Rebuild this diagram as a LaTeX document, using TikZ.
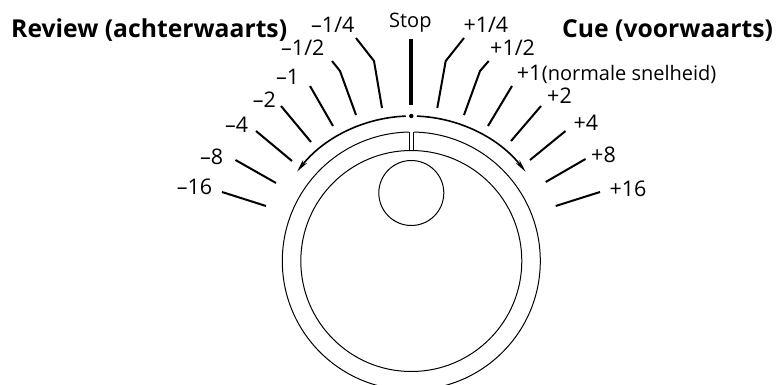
\documentclass[tikz,border=0pt]{standalone}
\usepackage{fontspec}
\setmainfont{Open Sans}
\usetikzlibrary{arrows.meta}
\tikzset{
  dialtext/.style={anchor=base west,inner sep=0pt,font=\fontsize{21.5}{25}\selectfont},
  wordtext/.style={anchor=base west,inner sep=0pt,font=\fontsize{20}{24}\selectfont},
  headtext/.style={anchor=base west,inner sep=0pt,font=\bfseries\fontsize{24.7}{29}\selectfont},
  speedtick/.style={line width=2pt,line join=round},
  knobline/.style={line width=1pt},
  sweeparc/.style={line width=1.6pt,-{Stealth[length=13pt,width=5pt,inset=4pt]}}
}
\begin{document}
\begin{tikzpicture}[x=1pt,y=-1pt]
        \path[use as bounding box,clip] (0,0) rectangle (781,385);
        \coordinate (knobcentre) at (411.3,261);

        \node[headtext] (reviewhead) at (11,37.3) {Review (achterwaarts)};
        \node[headtext] (cuehead) at (562,37.3) {Cue (voorwaarts)};

        \node[wordtext] (stoplabel) at (389,27.7) {Stop};
        \node[dialtext] (minquarter) at (311,33) {–1/4};
        \node[dialtext] (minhalf) at (281,56) {–1/2};
        \node[dialtext] (minone) at (276,85) {–1};
        \node[dialtext] (mintwo) at (252.7,108) {–2};
        \node[dialtext] (minfour) at (225,132.7) {–4};
        \node[dialtext] (mineight) at (200,164) {–8};
        \node[dialtext] (minsixteen) at (176.7,194) {–16};
        \node[dialtext] (plusquarter) at (463.3,32.3) {+1/4};
        \node[dialtext] (plushalf) at (490,56) {+1/2};
        \node[dialtext] (plusone) at (516.7,81) {+1};
        \node[wordtext] (normalspeed) at (541.7,81) {(normale snelheid)};
        \node[dialtext] (plustwo) at (547,104) {+2};
        \node[dialtext] (plusfour) at (573.3,131) {+4};
        \node[dialtext] (pluseight) at (591,162) {+8};
        \node[dialtext] (plussixteen) at (609.3,196.7) {+16};

        \draw[speedtick,line width=3.3pt] (411,39) -- (411,105.5);
        \draw[speedtick] (222,192) -- (266,206);
        \draw[speedtick] (235.5,160) -- (276,183);
        \draw[speedtick] (256,131) -- (292,161);
        \draw[speedtick] (281,106) -- (311,142);
        \draw[speedtick] (310,86) -- (333,126);
        \draw[speedtick] (332,61) -- (340,71) -- (356,115);
        \draw[speedtick] (356,38) -- (374,61) -- (382,108);
        \draw[speedtick] (464,38) -- (445.7,61) -- (437.3,108);
        \draw[speedtick] (488.7,61) -- (480,71) -- (464,115);
        \draw[speedtick] (512,86) -- (488,126);
        \draw[speedtick] (541,106) -- (511,141);
        \draw[speedtick] (565.5,131) -- (530,160);
        \draw[speedtick] (585.5,159) -- (545.7,182);
        \draw[speedtick] (600,192) -- (555.7,206);

        % sweep arcs either side of the stop dot
        \fill ([shift={(90:145pt)}]knobcentre) circle (2.2pt);
        \draw[sweeparc] ([shift={(92.2:145pt)}]knobcentre) arc[start angle=92.2,end angle=142,radius=145pt];
        \draw[sweeparc] ([shift={(87.8:145pt)}]knobcentre) arc[start angle=87.8,end angle=38,radius=145pt];

        % knob
        \draw[knobline] ([shift={(88.9:129pt)}]knobcentre) arc[start angle=88.9,end angle=-268.9,radius=129pt];
        \draw[knobline] (knobcentre) circle[radius=110.5pt];
        \draw[knobline] (409,132) -- (409,150.5);
        \draw[knobline] (413.8,132) -- (413.8,150.5);
        \draw[knobline] (411.3,193) circle[radius=32.5pt];
\end{tikzpicture}
\end{document}
